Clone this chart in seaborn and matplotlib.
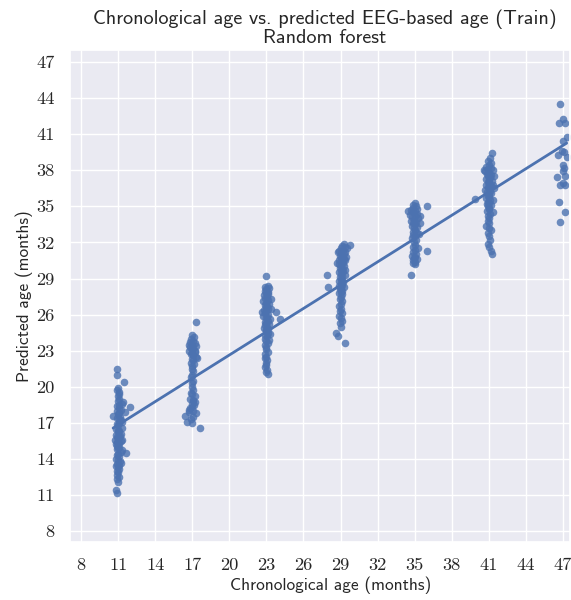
import matplotlib
matplotlib.use("Agg")
import matplotlib.pyplot as plt
import numpy as np
import pandas as pd
import seaborn as sns

# ---------------- data ----------------
age_11 = [10.9, 10.9, 11.5, 11.0, 10.95, 11.1, 11.05, 11.0, 11.1, 11.0,
          11.4, 11.1, 10.9, 12.0, 11.05, 11.2, 10.95, 11.55, 11.1, 11.0,
          10.6, 11.15, 10.9, 11.05, 11.2, 11.1, 10.95, 11.0, 11.3, 10.85,
          11.1, 11.0, 10.8, 11.15, 10.9, 11.0, 10.75, 11.2, 10.95, 11.05,
          10.85, 11.1, 11.0, 10.9, 11.2, 11.65, 11.0, 10.95, 11.1, 10.85,
          11.0, 11.15, 10.9, 11.05, 10.8, 11.0, 11.1, 10.9, 11.0, 10.95,
          11.05, 10.9, 11.0, 10.85, 10.9, 11.3, 10.95, 11.25, 11.35, 11.3,
          11.2, 11.3, 11.1, 11.0]
pred_11 = [21.5, 21.0, 20.4, 19.9, 19.7, 19.6, 19.4, 19.2, 19.0, 18.8,
           18.7, 18.5, 18.4, 18.3, 18.2, 18.1, 18.0, 17.9, 17.8, 17.7,
           17.6, 17.5, 17.4, 17.3, 17.2, 17.0, 16.9, 16.8, 16.6, 16.5,
           16.3, 16.2, 16.0, 15.9, 15.8, 15.7, 15.6, 15.5, 15.4, 15.3,
           15.2, 15.0, 14.9, 14.8, 14.6, 14.5, 14.4, 14.3, 14.2, 14.0,
           13.9, 13.8, 13.6, 13.5, 13.4, 13.3, 13.2, 13.0, 12.9, 12.7,
           12.5, 12.3, 12.1, 11.4, 11.2, 15.6, 15.1, 16.1, 17.1, 14.7,
           13.7, 18.6, 15.8, 16.4]

age_17 = [17.3, 17.0, 17.15, 16.9, 17.05, 16.8, 17.2, 17.0, 17.3, 16.85,
          17.1, 16.95, 16.7, 17.2, 17.0, 16.9, 17.1, 17.3, 16.95, 17.05,
          16.9, 17.15, 17.0, 16.95, 17.1, 17.0, 16.9, 17.05, 17.0, 16.95,
          17.1, 16.9, 17.0, 17.2, 16.85, 17.05, 17.1, 16.95, 17.15, 17.0,
          16.8, 17.1, 16.7, 17.3, 16.4, 17.05, 16.9, 16.6, 17.0, 17.6,
          17.35, 17.25, 16.75, 17.25, 16.75]
pred_17 = [25.4, 24.3, 24.1, 24.0, 23.8, 23.7, 23.6, 23.5, 23.4, 23.3,
           23.2, 23.1, 23.0, 22.9, 22.8, 22.7, 22.6, 22.5, 22.3, 22.2,
           22.0, 21.9, 21.7, 21.5, 21.3, 21.0, 20.8, 20.5, 20.3, 20.0,
           19.7, 19.5, 19.4, 19.2, 19.0, 18.9, 18.8, 18.6, 18.5, 18.3,
           18.2, 18.0, 17.9, 17.8, 17.6, 17.5, 17.3, 17.1, 17.0, 16.6,
           22.4, 23.0, 18.1, 18.7, 23.5]

age_23 = [23.0, 23.1, 22.9, 23.2, 23.0, 22.85, 23.1, 22.95, 23.15, 22.8,
          23.05, 22.9, 23.1, 22.7, 23.0, 23.2, 22.85, 23.05, 22.95, 23.1,
          22.8, 23.0, 23.8, 22.9, 23.15, 22.75, 23.05, 22.95, 24.1, 23.1,
          22.85, 23.0, 23.2, 22.9, 23.05, 22.8, 23.1, 22.95, 23.0, 23.15,
          22.9, 23.05, 22.85, 23.0, 23.1, 22.9, 23.0, 22.95, 23.1, 22.85,
          23.0, 22.9, 23.05, 22.95, 23.0, 22.9, 23.05, 22.95, 23.1, 23.4,
          23.35, 23.3, 22.65, 23.3, 23.25]
pred_23 = [29.2, 28.4, 28.3, 28.2, 28.1, 28.0, 27.9, 27.8, 27.7, 27.6,
           27.5, 27.4, 27.2, 27.1, 27.0, 26.9, 26.8, 26.7, 26.6, 26.5,
           26.4, 26.3, 26.2, 26.1, 26.0, 25.9, 25.8, 25.7, 25.6, 25.5,
           25.4, 25.3, 25.2, 25.1, 25.0, 24.9, 24.8, 24.7, 24.6, 24.5,
           24.3, 24.2, 24.0, 23.8, 23.6, 23.5, 23.3, 23.1, 22.9, 22.7,
           22.5, 22.4, 22.2, 22.0, 21.8, 21.6, 21.4, 21.2, 21.1, 26.5,
           27.3, 25.6, 26.2, 24.4, 23.9]

age_29 = [29.3, 29.8, 29.1, 29.4, 29.0, 29.2, 28.9, 29.35, 29.05, 29.25,
          28.95, 29.15, 29.0, 29.3, 28.85, 29.1, 29.2, 28.9, 29.05, 29.3,
          28.95, 29.1, 29.0, 29.2, 28.9, 29.05, 27.9, 29.15, 28.95, 29.0,
          29.1, 28.85, 29.2, 29.0, 29.1, 28.9, 28.0, 29.05, 28.95, 29.15,
          29.0, 28.9, 29.1, 29.0, 28.95, 29.1, 29.0, 28.85, 29.05, 28.95,
          29.1, 28.9, 29.0, 29.15, 28.95, 29.05, 28.6, 28.8, 29.4, 29.5,
          29.45, 28.75, 29.4, 28.8, 29.4, 29.35, 29.3]
pred_29 = [31.9, 31.8, 31.7, 31.6, 31.5, 31.4, 31.3, 31.2, 31.1, 31.0,
           30.9, 30.8, 30.7, 30.6, 30.5, 30.4, 30.3, 30.2, 30.1, 30.0,
           29.9, 29.8, 29.7, 29.6, 29.5, 29.4, 29.3, 29.2, 29.1, 29.0,
           28.9, 28.8, 28.7, 28.6, 28.5, 28.4, 28.3, 28.2, 28.1, 28.0,
           27.9, 27.8, 27.7, 27.5, 27.3, 27.1, 26.9, 26.7, 26.5, 26.3,
           26.1, 25.9, 25.7, 25.5, 25.3, 25.0, 24.5, 24.2, 23.6, 31.5,
           30.8, 30.3, 29.7, 31.2, 30.5, 29.3, 28.3]

age_35 = [35.0, 34.85, 35.1, 34.9, 35.2, 34.7, 35.05, 34.85, 35.15, 34.6,
          35.0, 34.8, 35.25, 34.95, 34.7, 35.1, 34.9, 35.0, 34.8, 35.2,
          34.95, 35.05, 34.85, 35.15, 34.9, 35.0, 34.75, 35.1, 34.95, 35.05,
          34.85, 35.0, 34.9, 35.1, 34.8, 35.0, 34.95, 35.2, 34.85, 35.05,
          34.9, 35.0, 34.7, 36.0, 36.0, 35.45, 35.4, 35.35, 35.3, 34.5]
pred_35 = [35.3, 35.1, 35.0, 34.9, 34.8, 34.7, 34.6, 34.5, 34.4, 34.3,
           34.2, 34.1, 34.0, 33.9, 33.8, 33.7, 33.6, 33.5, 33.4, 33.3,
           33.2, 33.0, 32.9, 32.8, 32.6, 32.5, 32.4, 32.2, 32.0, 31.8,
           31.6, 31.4, 31.2, 31.0, 30.9, 30.8, 30.7, 30.6, 30.5, 30.4,
           30.3, 30.2, 29.3, 35.0, 31.3, 34.2, 33.6, 32.7, 31.5, 34.6]

age_41 = [41.25, 41.1, 40.9, 41.2, 41.0, 40.8, 41.15, 40.95, 41.3, 40.7,
          41.05, 40.85, 41.2, 40.95, 41.1, 40.75, 41.0, 41.25, 40.9, 41.05,
          40.8, 41.15, 40.95, 41.0, 40.7, 41.1, 40.85, 41.2, 41.0, 40.9,
          41.05, 40.8, 39.9, 41.1, 40.95, 41.0, 40.85, 41.15, 40.9, 41.05,
          41.0, 40.85, 41.1, 40.95, 41.0, 40.9, 41.05, 40.8, 41.0, 41.15,
          40.9, 41.0, 41.1, 40.95, 41.05, 41.2, 41.25, 41.45, 41.4, 41.35,
          40.6, 41.35, 41.3]
pred_41 = [39.4, 39.0, 38.8, 38.6, 38.4, 38.3, 38.2, 38.1, 38.0, 37.9,
           37.8, 37.7, 37.6, 37.5, 37.4, 37.3, 37.2, 37.1, 37.0, 36.9,
           36.8, 36.7, 36.6, 36.5, 36.4, 36.3, 36.2, 36.1, 36.0, 35.9,
           35.8, 35.7, 35.6, 35.5, 35.4, 35.3, 35.2, 35.1, 35.0, 34.9,
           34.8, 34.6, 34.4, 34.2, 34.0, 33.8, 33.6, 33.4, 33.2, 33.0,
           32.8, 32.5, 32.2, 31.9, 31.6, 31.3, 31.0, 37.5, 36.5, 35.5,
           38.0, 36.8, 34.5]

age_47 = [46.8, 47.0, 46.7, 47.15, 47.3, 47.0, 46.9, 47.1, 46.6, 47.3,
          47.0, 47.1, 47.0, 46.5, 47.15, 47.0, 46.8, 47.15, 46.7, 47.2,
          46.8]
pred_47 = [43.5, 42.3, 41.9, 41.9, 40.8, 40.4, 39.6, 39.5, 39.3, 39.1,
           38.4, 38.2, 37.9, 37.4, 37.5, 36.9, 36.8, 36.8, 35.4, 34.5,
           33.7]

ticks = [8, 11, 14, 17, 20, 23, 26, 29, 32, 35, 38, 41, 44, 47]
title = "Chronological age vs. predicted EEG-based age (Train)\nRandom forest"
xlabel = "Chronological age (months)"
ylabel = "Predicted age (months)"

df = pd.DataFrame({
    "age": age_11 + age_17 + age_23 + age_29 + age_35 + age_41 + age_47,
    "pred": pred_11 + pred_17 + pred_23 + pred_29 + pred_35 + pred_41 + pred_47,
})

# ---------------- plot ----------------
sns.set_theme(style="darkgrid")
plt.rcParams["axes.formatter.use_mathtext"] = True

fig = plt.figure(figsize=(5.71, 6.0), dpi=100)
ax = fig.add_axes([70 / 571, 58 / 600, 500 / 571, 492 / 600])

sns.regplot(data=df, x="age", y="pred", ci=None, ax=ax,
            scatter_kws={"s": 30, "alpha": 0.8, "linewidths": 0},
            line_kws={"lw": 2})

ax.set_xlim(7.11, 47.57)
ax.set_ylim(7.09, 48.0)
ax.set_xticks(ticks)
ax.set_yticks(ticks)
ax.set_xticklabels([str(t) for t in ticks], fontfamily="cmr10", fontsize=13.2)
ax.set_yticklabels([str(t) for t in ticks], fontfamily="cmr10", fontsize=13.2)
ax.tick_params(axis="both", colors="#262626", pad=5)

ax.set_xlabel(xlabel, fontfamily="cmss10", fontsize=12.5, labelpad=2)
ax.set_ylabel(ylabel, fontfamily="cmss10", fontsize=12.5, labelpad=2)
ax.xaxis.set_label_coords(0.522, -0.07)
ax.set_title(title, fontfamily="cmss10", fontsize=14.5, pad=5, linespacing=1.0,
             x=0.51)

fig.savefig("out.png", dpi=100)
